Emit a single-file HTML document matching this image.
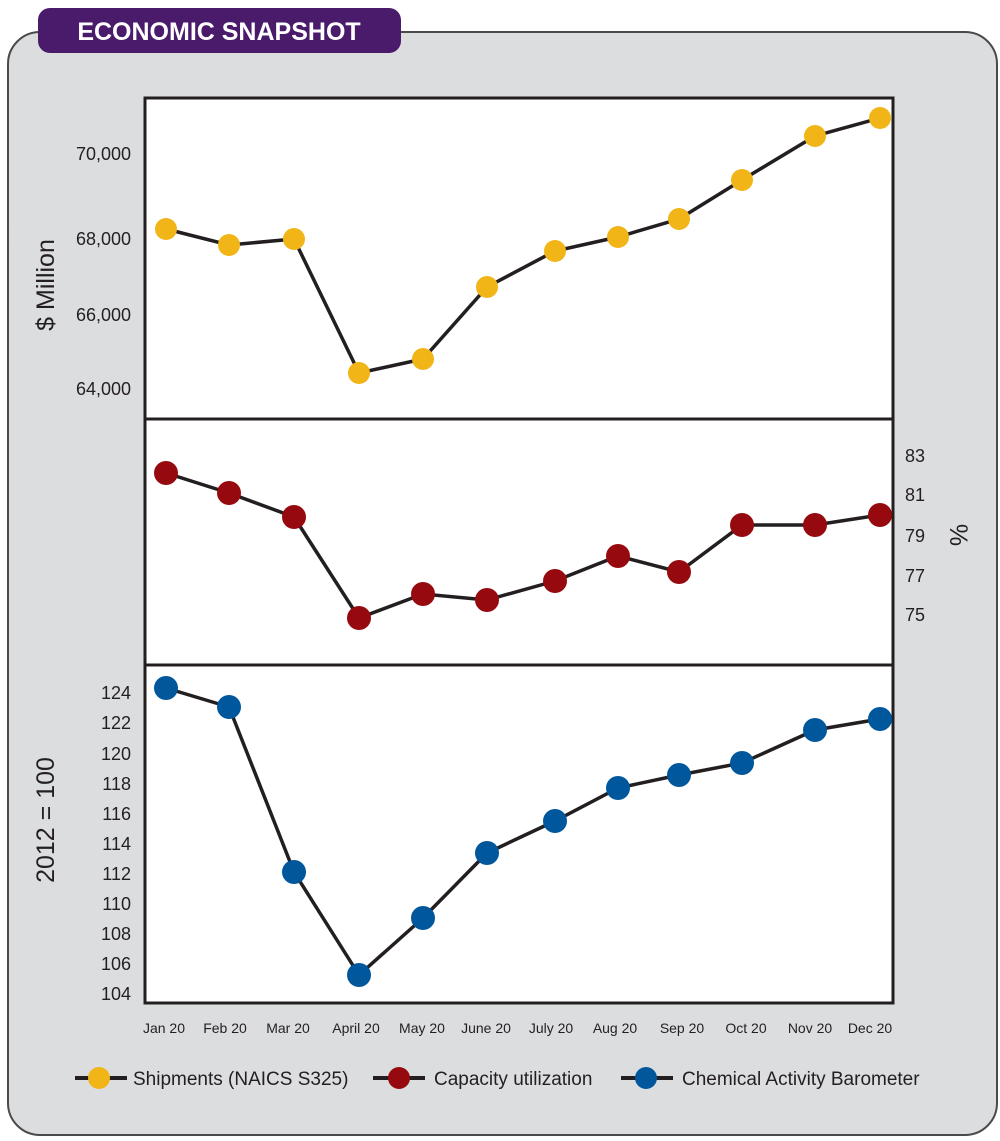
<!DOCTYPE html>
<html><head><meta charset="utf-8"><style>
html,body{margin:0;padding:0;background:#fff;}
svg{display:block;font-family:"Liberation Sans",sans-serif;}
</style></head><body>
<svg width="1000" height="1141" viewBox="0 0 1000 1141" xmlns="http://www.w3.org/2000/svg">
<rect x="8" y="32" width="989" height="1103" rx="32" fill="#dcdddf" stroke="#4a4a4a" stroke-width="2"/>
<rect x="38" y="8" width="363" height="45" rx="12" fill="#4a1a6b"/>
<text x="219" y="40" text-anchor="middle" fill="#fff" font-size="25" font-weight="bold">ECONOMIC SNAPSHOT</text>
<rect x="145" y="98" width="748" height="905" fill="#fff" stroke="#231f20" stroke-width="3"/>
<line x1="145" y1="419" x2="893" y2="419" stroke="#231f20" stroke-width="3"/>
<line x1="145" y1="665" x2="893" y2="665" stroke="#231f20" stroke-width="3"/>
<g font-size="18" fill="#231f20" text-anchor="end">
<text x="131" y="160">70,000</text><text x="131" y="245">68,000</text><text x="131" y="321">66,000</text><text x="131" y="395">64,000</text>
<text x="131" y="699">124</text><text x="131" y="729">122</text><text x="131" y="760">120</text><text x="131" y="790">118</text><text x="131" y="820">116</text><text x="131" y="850">114</text><text x="131" y="880">112</text><text x="131" y="910">110</text><text x="131" y="940">108</text><text x="131" y="970">106</text><text x="131" y="1000">104</text>
</g>
<g font-size="18" fill="#231f20">
<text x="905" y="462">83</text><text x="905" y="501">81</text><text x="905" y="542">79</text><text x="905" y="582">77</text><text x="905" y="621">75</text>
</g>
<text transform="translate(54,285) rotate(-90)" text-anchor="middle" font-size="25" fill="#231f20">$ Million</text>
<text transform="translate(54,820) rotate(-90)" text-anchor="middle" font-size="25" fill="#231f20">2012 = 100</text>
<text transform="translate(950,535) rotate(90)" text-anchor="middle" font-size="25" fill="#231f20">%</text>
<g stroke="#231f20" stroke-width="3.5" fill="none">
<polyline points="166,229 229,245 294,239 359,373 423,359 487,287 555,251 618,237 679,219 742,180 815,136 880,118"/>
<polyline points="166,473 229,493 294,517 359,618 423,594 487,600 555,581 618,556 679,572 742,525 815,525 880,515"/>
<polyline points="166,688 229,707 294,872 359,975 423,918 487,853 555,821 618,788 679,775 742,763 815,730 880,719"/>
</g>
<g fill="#f2b517">
<circle cx="166" cy="229" r="11"/><circle cx="229" cy="245" r="11"/><circle cx="294" cy="239" r="11"/><circle cx="359" cy="373" r="11"/><circle cx="423" cy="359" r="11"/><circle cx="487" cy="287" r="11"/><circle cx="555" cy="251" r="11"/><circle cx="618" cy="237" r="11"/><circle cx="679" cy="219" r="11"/><circle cx="742" cy="180" r="11"/><circle cx="815" cy="136" r="11"/><circle cx="880" cy="118" r="11"/>
</g>
<g fill="#960a0f">
<circle cx="166" cy="473" r="12"/><circle cx="229" cy="493" r="12"/><circle cx="294" cy="517" r="12"/><circle cx="359" cy="618" r="12"/><circle cx="423" cy="594" r="12"/><circle cx="487" cy="600" r="12"/><circle cx="555" cy="581" r="12"/><circle cx="618" cy="556" r="12"/><circle cx="679" cy="572" r="12"/><circle cx="742" cy="525" r="12"/><circle cx="815" cy="525" r="12"/><circle cx="880" cy="515" r="12"/>
</g>
<g fill="#00579c">
<circle cx="166" cy="688" r="12"/><circle cx="229" cy="707" r="12"/><circle cx="294" cy="872" r="12"/><circle cx="359" cy="975" r="12"/><circle cx="423" cy="918" r="12"/><circle cx="487" cy="853" r="12"/><circle cx="555" cy="821" r="12"/><circle cx="618" cy="788" r="12"/><circle cx="679" cy="775" r="12"/><circle cx="742" cy="763" r="12"/><circle cx="815" cy="730" r="12"/><circle cx="880" cy="719" r="12"/>
</g>
<g font-size="14" fill="#231f20" text-anchor="middle">
<text x="164" y="1033">Jan 20</text><text x="225" y="1033">Feb 20</text><text x="288" y="1033">Mar 20</text><text x="356" y="1033">April 20</text><text x="422" y="1033">May 20</text><text x="486" y="1033">June 20</text><text x="551" y="1033">July 20</text><text x="615" y="1033">Aug 20</text><text x="682" y="1033">Sep 20</text><text x="746" y="1033">Oct 20</text><text x="810" y="1033">Nov 20</text><text x="870" y="1033">Dec 20</text>
</g>
<g stroke="#231f20" stroke-width="4">
<line x1="75" y1="1078" x2="127" y2="1078"/><line x1="373" y1="1078" x2="425" y2="1078"/><line x1="621" y1="1078" x2="673" y2="1078"/>
</g>
<circle cx="99" cy="1078" r="11" fill="#f2b517"/><circle cx="399" cy="1078" r="11" fill="#960a0f"/><circle cx="646" cy="1078" r="11" fill="#00579c"/>
<g font-size="19" fill="#231f20">
<text x="133" y="1085">Shipments (NAICS S325)</text><text x="434" y="1085">Capacity utilization</text><text x="682" y="1085">Chemical Activity Barometer</text>
</g>
</svg>
</body></html>
